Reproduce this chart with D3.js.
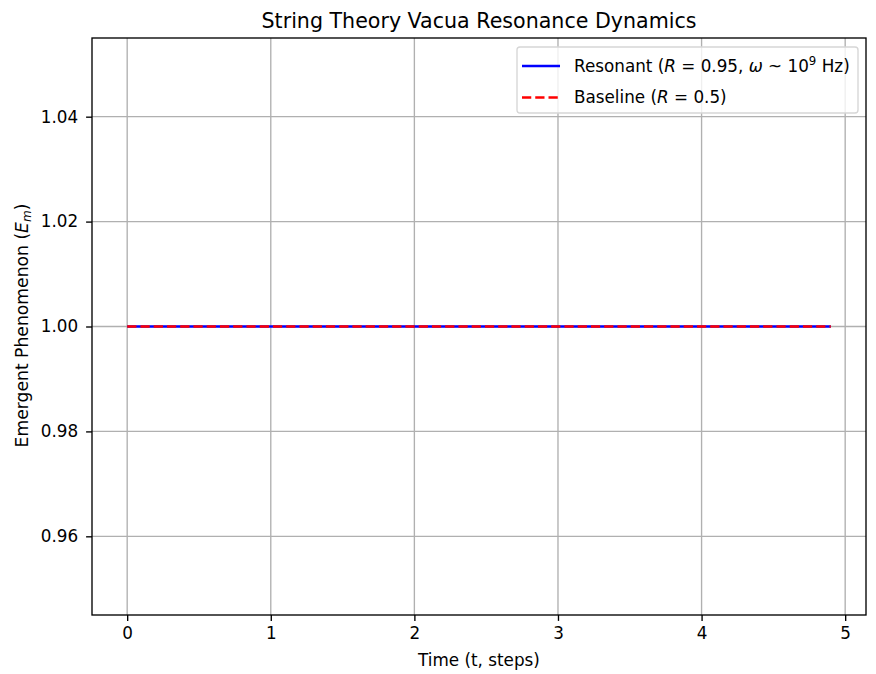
<!DOCTYPE html>
<html>
<head>
<meta charset="utf-8">
<script src="https://cdn.jsdelivr.net/npm/d3@7"></script>
<style>
    body { margin: 0; background: #fff; }
    svg text { font-family: "DejaVu Sans", sans-serif; fill: #000; }
</style>
</head>
<body>
<svg id="chart" width="876" height="674"></svg>
<script>
// time steps (t) and the two series
const timeSteps = [0.0, 0.1, 0.2, 0.3, 0.4, 0.5, 0.6, 0.7, 0.8, 0.9,
    1.0, 1.1, 1.2, 1.3, 1.4, 1.5, 1.6, 1.7, 1.8, 1.9,
    2.0, 2.1, 2.2, 2.3, 2.4, 2.5, 2.6, 2.7, 2.8, 2.9,
    3.0, 3.1, 3.2, 3.3, 3.4, 3.5, 3.6, 3.7, 3.8, 3.9,
    4.0, 4.1, 4.2, 4.3, 4.4, 4.5, 4.6, 4.7, 4.8, 4.9];
const resonantValues = [1, 1, 1, 1, 1, 1, 1, 1, 1, 1,
    1, 1, 1, 1, 1, 1, 1, 1, 1, 1,
    1, 1, 1, 1, 1, 1, 1, 1, 1, 1,
    1, 1, 1, 1, 1, 1, 1, 1, 1, 1,
    1, 1, 1, 1, 1, 1, 1, 1, 1, 1];
const baselineValues = [1, 1, 1, 1, 1, 1, 1, 1, 1, 1,
    1, 1, 1, 1, 1, 1, 1, 1, 1, 1,
    1, 1, 1, 1, 1, 1, 1, 1, 1, 1,
    1, 1, 1, 1, 1, 1, 1, 1, 1, 1,
    1, 1, 1, 1, 1, 1, 1, 1, 1, 1];
const xTicks = [0, 1, 2, 3, 4, 5];
const yTicks = [0.96, 0.98, 1.00, 1.02, 1.04];

const FONT = 16.8;
const LW = 2.5;

const svg = d3.select('#chart');
const margin = {left: 92, top: 38, right: 876 - 866, bottom: 674 - 615};
const width = 876 - margin.left - margin.right;
const height = 674 - margin.top - margin.bottom;

const x = d3.scaleLinear().domain([-0.245, 5.145]).range([0, width]);
const y = d3.scaleLinear().domain([0.945, 1.055]).range([height, 0]);

const g = svg.append('g').attr('transform', `translate(${margin.left},${margin.top})`);

// grid
g.append('g').selectAll('line').data(xTicks).join('line')
    .attr('x1', d => x(d)).attr('x2', d => x(d))
    .attr('y1', 0).attr('y2', height)
    .attr('stroke', '#b0b0b0').attr('stroke-width', 1.35);
g.append('g').selectAll('line').data(yTicks).join('line')
    .attr('x1', 0).attr('x2', width)
    .attr('y1', d => y(d)).attr('y2', d => y(d))
    .attr('stroke', '#b0b0b0').attr('stroke-width', 1.35);

// axes
const xAxis = g.append('g').attr('transform', `translate(0,${height})`)
    .call(d3.axisBottom(x).tickValues(xTicks).tickFormat(d3.format('d')).tickSize(5.9).tickPadding(6));
const yAxis = g.append('g')
    .call(d3.axisLeft(y).tickValues(yTicks).tickFormat(d3.format('.2f')).tickSize(5.9).tickPadding(8));
[xAxis, yAxis].forEach(a => {
    a.select('.domain').remove();
    a.selectAll('.tick line').attr('stroke', '#000').attr('stroke-width', 1.35);
    a.selectAll('.tick text').attr('font-size', FONT).attr('font-family', '"DejaVu Sans", sans-serif').attr('fill', '#000');
});

// lines
const line = vals => d3.line().x((d, i) => x(timeSteps[i])).y(d => y(d))(vals);
g.append('path').attr('d', line(resonantValues))
    .attr('fill', 'none').attr('stroke', '#0000ff').attr('stroke-width', LW);
g.append('path').attr('d', line(baselineValues))
    .attr('fill', 'none').attr('stroke', '#ff0000').attr('stroke-width', LW)
    .attr('stroke-dasharray', '9.25,4');

// frame
g.append('rect').attr('width', width).attr('height', height)
    .attr('fill', 'none').attr('stroke', '#000').attr('stroke-width', 1.35);

// title and labels
svg.append('text').attr('x', margin.left + width / 2).attr('y', 28)
    .attr('text-anchor', 'middle').attr('font-size', 20.6)
    .text('String Theory Vacua Resonance Dynamics');
svg.append('text').attr('x', margin.left + width / 2).attr('y', 666)
    .attr('text-anchor', 'middle').attr('font-size', FONT)
    .text('Time (t, steps)');

const yl = svg.append('text')
    .attr('transform', `translate(27.5,${margin.top + height / 2 - 1}) rotate(-90)`)
    .attr('text-anchor', 'middle').attr('font-size', 17.2);
yl.append('tspan').text('Emergent Phenomenon (');
yl.append('tspan').attr('font-style', 'italic').text('E');
yl.append('tspan').attr('font-style', 'italic').attr('font-size', 12).attr('dy', 3.5).text('m');
yl.append('tspan').attr('dy', -3.5).text(')');

// legend
const lg = svg.append('g').attr('transform', 'translate(517,47)');
lg.append('rect').attr('width', 341).attr('height', 66).attr('rx', 3)
    .attr('fill', '#fff').attr('fill-opacity', 0.8)
    .attr('stroke', '#d6d6d6').attr('stroke-width', 1.35);
lg.append('line').attr('x1', 5).attr('x2', 43).attr('y1', 19).attr('y2', 19)
    .attr('stroke', '#0000ff').attr('stroke-width', LW);
lg.append('line').attr('x1', 5).attr('x2', 43).attr('y1', 50.5).attr('y2', 50.5)
    .attr('stroke', '#ff0000').attr('stroke-width', LW).attr('stroke-dasharray', '9.25,4');

const t1 = lg.append('text').attr('x', 57).attr('y', 24.7).attr('font-size', FONT);
t1.append('tspan').text('Resonant (');
t1.append('tspan').attr('font-style', 'italic').text('R');
t1.append('tspan').text(' = 0.95, ');
t1.append('tspan').attr('font-style', 'italic').text('ω');
t1.append('tspan').text(' ~ 10');
t1.append('tspan').attr('font-size', 11.8).attr('dy', -7).text('9');
t1.append('tspan').attr('dy', 7).text(' Hz)');

const t2 = lg.append('text').attr('x', 57).attr('y', 56.3).attr('font-size', FONT);
t2.append('tspan').text('Baseline (');
t2.append('tspan').attr('font-style', 'italic').text('R');
t2.append('tspan').text(' = 0.5)');
</script>
</body>
</html>
